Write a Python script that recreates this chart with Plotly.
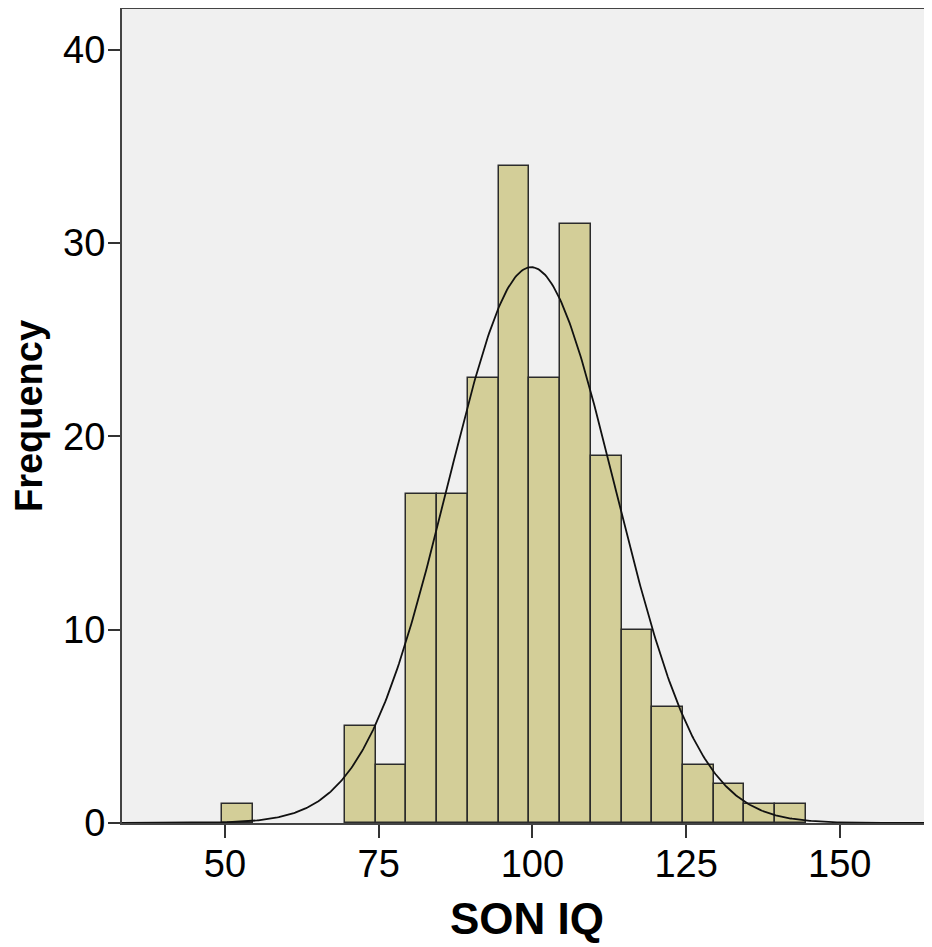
import numpy as np
import plotly.graph_objects as go

bin_left = [49.5, 69.5, 74.5, 79.5, 84.5, 89.5, 94.5, 99.5, 104.5, 109.5,
            114.5, 119.5, 124.5, 129.5, 134.5, 139.5]
counts = [1, 5, 3, 17, 17, 23, 34, 23, 31, 19, 10, 6, 3, 2, 1, 1]
bin_width = 5
mean_iq = 99.8
sd_iq = 13.6
n_total = sum(counts)
x_ticks = [50, 75, 100, 125, 150]
y_ticks = [0, 10, 20, 30, 40]

centers = [b + bin_width / 2 for b in bin_left]
xc = np.linspace(33, 166, 600)
yc = n_total * bin_width / (sd_iq * np.sqrt(2 * np.pi)) * np.exp(-0.5 * ((xc - mean_iq) / sd_iq) ** 2)

fig = go.Figure()
fig.add_trace(go.Bar(x=centers, y=counts, width=bin_width,
                     marker=dict(color="#d3ce98", line=dict(color="#2b2b2b", width=1.5)),
                     hoverinfo="x+y"))
fig.add_trace(go.Scatter(x=xc, y=yc, mode="lines",
                         line=dict(color="#111111", width=1.8), hoverinfo="skip"))

font = "Liberation Sans, Arial, sans-serif"
fig.update_layout(
    width=924, height=939,
    margin=dict(l=114, r=0, t=1, b=124),
    paper_bgcolor="white", plot_bgcolor="#f0f0f0",
    showlegend=False, bargap=0,
    font=dict(family=font, color="black", size=38),
    xaxis=dict(range=[33.25, 165], tickvals=x_ticks, ticks="outside", ticklen=13,
               tickwidth=1.5, tickcolor="#333", showgrid=False, zeroline=False,
               showline=True, linecolor="#444", linewidth=2, mirror=True,
               tickfont=dict(size=38), ticklabelstandoff=-7,
               title=dict(text="<b>SON IQ</b>", font=dict(size=44), standoff=20)),
    yaxis=dict(range=[0, 42.1], tickvals=y_ticks, ticks="outside", ticklen=12,
               tickwidth=1.5, tickcolor="#333", showgrid=False, zeroline=False,
               showline=True, linecolor="#444", linewidth=2, mirror=False,
               tickfont=dict(size=38), ticklabelstandoff=-5,
               title=dict(text="<b>Frequency</b>", font=dict(size=38), standoff=13)),
)
fig.write_html("out.html")
